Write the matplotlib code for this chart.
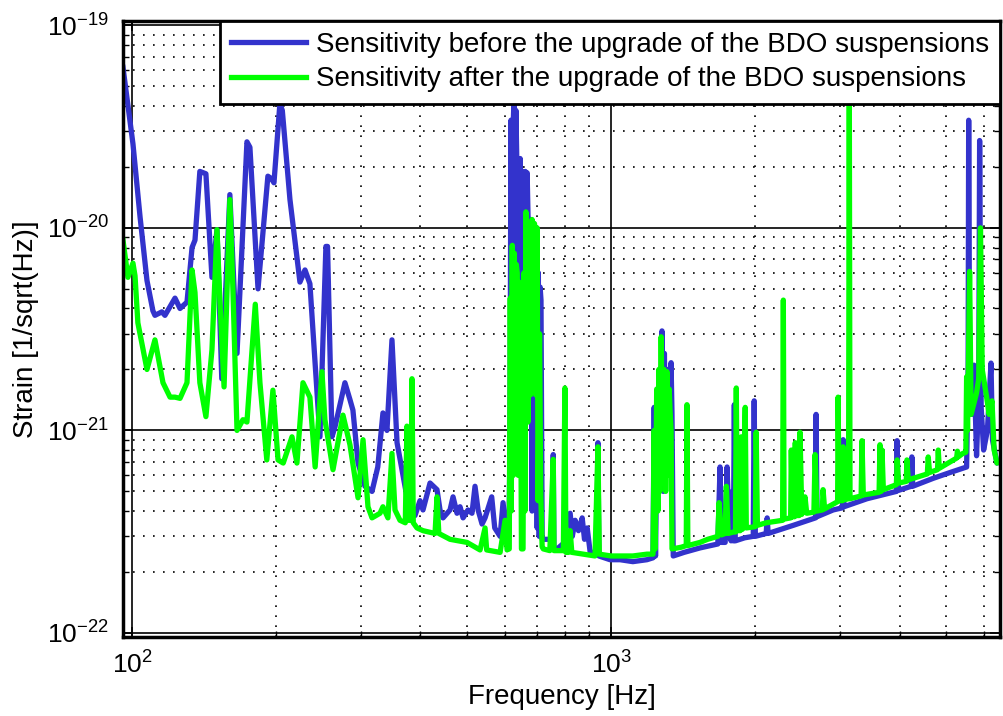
import matplotlib
matplotlib.use("Agg")
import matplotlib.pyplot as plt
from matplotlib.ticker import NullFormatter

plt.rcParams['font.family'] = ['Liberation Sans', 'DejaVu Sans']
plt.rcParams['mathtext.fontset'] = 'custom'
plt.rcParams['mathtext.rm'] = 'Liberation Sans'
plt.rcParams['mathtext.it'] = 'Liberation Sans:italic'
plt.rcParams['mathtext.bf'] = 'Liberation Sans:bold'

# sensitivity before the upgrade (blue)
before_freq = [
    95.8, 100.5, 104.0, 107.5, 110.6, 111.7, 115.5, 117.2, 123.0, 126.0,
    130.3, 133.5, 135.4, 138.6, 142.7, 146.9, 150.5, 154.0, 160.1, 165.7,
    173.8, 176.3, 183.3, 192.2, 195.5, 197.9, 203.6, 206.0, 213.7, 224.2,
    229.7, 235.2, 246.8, 254.0, 256.0, 261.5, 265.3, 278.3, 285.1, 289.2,
    296.4, 306.5, 317.0, 325.9, 334.1, 340.6, 348.9, 357.5, 366.1, 374.9,
    380.5, 389.7, 399.2, 405.0, 418.9, 433.2, 439.5, 445.9, 461.2, 467.9,
    476.9, 483.9, 491.0, 502.7, 512.5, 520.0, 527.7, 537.9, 545.7, 563.4,
    571.7, 586.6, 595.0, 606.6, 612, 615, 618, 621, 624, 627,
    630, 633, 636, 639, 642, 646, 650, 655, 658, 662,
    665, 668, 671, 675, 680, 684, 688, 692, 697, 701,
    705, 708, 711, 714, 718, 735, 754, 757.3, 760, 771.5,
    800, 810, 821.4, 830, 841.4, 855, 870.3, 880, 891.5, 904.4,
    934.3, 938.7, 943, 995, 1044, 1110, 1188, 1223, 1230, 1238,
    1250, 1262, 1277, 1285, 1292, 1300, 1310, 1320, 1334, 1340,
    1348, 1420, 1533, 1670, 1688, 1700, 1730, 1746, 1765, 1780,
    1791, 1800, 1808, 1816, 1900, 1980, 1989, 2000, 2107, 2117,
    2127, 2400, 2670, 2678, 2690, 2907, 3040, 3050, 3062, 3420,
    3940, 3953, 3970, 4230, 4243, 4260, 4700, 5100, 5520, 5560,
    5575, 5600, 5650, 5720, 5790, 5850, 5876, 5920, 5990, 6100,
    6206, 6250, 6386, 6480]
before_strain = [
    6.2e-20, 2.6e-20, 1.13e-20, 5.5e-21, 3.9e-21, 3.7e-21, 3.85e-21, 3.7e-21, 4.5e-21, 4.0e-21,
    4.3e-21, 8.0e-21, 8.7e-21, 1.9e-20, 1.85e-20, 5.7e-21, 9.8e-21, 1.8e-21, 1.46e-20, 2.4e-21,
    2.66e-20, 2.5e-20, 5.0e-21, 1.8e-20, 1.75e-20, 1.67e-20, 4.1e-20, 3.8e-20, 1.38e-20, 5.4e-21,
    6.2e-21, 5.3e-21, 9.3e-22, 8.1e-21, 8.1e-21, 9.3e-22, 1.04e-21, 1.72e-21, 1.42e-21, 1.26e-21,
    6.9e-22, 5.3e-22, 5.0e-22, 6.6e-22, 1.22e-21, 1.0e-21, 2.8e-21, 8.7e-22, 6.4e-22, 4.7e-22,
    4.05e-22, 3.8e-22, 4.5e-22, 4.05e-22, 5.5e-22, 5.1e-22, 4.05e-22, 3.7e-22, 4.05e-22, 4.7e-22,
    3.9e-22, 4.2e-22, 3.7e-22, 4.05e-22, 3.9e-22, 5.3e-22, 4.05e-22, 3.45e-22, 3.7e-22, 4.7e-22,
    3.3e-22, 3.0e-22, 4.4e-22, 2.9e-22, 3.0e-22, 8.0e-22, 3.4e-20, 1.0e-21, 3.0e-20, 4.2e-20,
    2.0e-21, 3.8e-20, 2.0e-20, 2.2e-20, 1.2e-21, 2.2e-20, 6.0e-21, 1.9e-20, 1.5e-21, 1.9e-20,
    8.0e-21, 1.87e-20, 1.13e-20, 3.0e-21, 1.1e-20, 4.0e-22, 1.06e-20, 3.0e-21, 8.0e-21, 3.3e-22,
    6.0e-21, 3.0e-22, 5.1e-21, 4.4e-21, 2.9e-22, 2.9e-22, 2.9e-22, 7.6e-22, 2.6e-22, 2.6e-22,
    2.8e-22, 3.8e-22, 3.9e-22, 3.0e-22, 3.6e-22, 3.2e-22, 3.7e-22, 2.9e-22, 3.3e-22, 2.5e-22,
    2.5e-22, 8.7e-22, 2.4e-22, 2.3e-22, 2.3e-22, 2.25e-22, 2.3e-22, 2.35e-22, 1.3e-21, 2.4e-22,
    1.5e-21, 6.0e-22, 3.1e-21, 5.0e-22, 2.4e-21, 7.0e-22, 2.0e-21, 6.0e-22, 2.16e-21, 1.2e-21,
    2.4e-22, 2.5e-22, 2.63e-22, 2.75e-22, 6.6e-22, 2.8e-22, 2.8e-22, 6.6e-22, 3.0e-22, 2.85e-22,
    5.0e-22, 2.85e-22, 1.34e-21, 2.85e-22, 2.95e-22, 3.0e-22, 1.4e-21, 3.0e-22, 3.1e-22, 3.7e-22,
    3.1e-22, 3.4e-22, 3.7e-22, 1.2e-21, 3.75e-22, 4.05e-22, 4.15e-22, 9.0e-22, 4.2e-22, 4.6e-22,
    5.0e-22, 8.9e-22, 5.05e-22, 5.3e-22, 7.4e-22, 5.3e-22, 5.8e-22, 6.2e-22, 6.6e-22, 2.0e-21,
    3.4e-20, 2.0e-21, 1.2e-21, 2.1e-21, 7.5e-22, 1.5e-21, 2.7e-20, 1.3e-21, 8.0e-22, 1.0e-21,
    2.15e-21, 9.0e-22, 6.9e-22, 7.0e-22]

# sensitivity after the upgrade (green)
after_freq = [
    95.8, 98.1, 100.5, 101.5, 102.9, 107.5, 111.7, 116.1, 120.1, 123.0,
    126.0, 130.3, 133.5, 135.4, 138.6, 142.7, 146.9, 150.5, 152.6, 155.7,
    160.1, 162.5, 165.7, 170.5, 173.8, 180.9, 185.0, 191.2, 196.9, 201.8,
    206.9, 215.8, 221.0, 227.5, 235.2, 241.2, 249.2, 252.8, 262.8, 275.7,
    285.1, 296.4, 303.6, 310.9, 317.0, 329.4, 334.1, 342.2, 348.9, 354.0,
    362.6, 372.0, 374.9, 377.0, 382.0, 384.1, 386.5, 393.5, 405.0, 429.1,
    433.2, 437.0, 461.2, 500.3, 532.8, 545.7, 550.0, 586.6, 600.8, 606.6,
    610, 613, 616, 619, 622, 625, 628, 631, 634, 637,
    640, 643, 646, 650, 655, 658, 661, 664, 667, 671,
    675, 679, 684, 688, 692, 696, 701, 704, 709, 713,
    718, 722, 745, 757.3, 760, 795, 800.9, 805, 815, 821.4,
    828, 925.6, 938.7, 945, 1000, 1110, 1188, 1223, 1230, 1236,
    1245, 1252, 1258, 1264, 1272, 1280, 1290, 1300, 1308, 1315,
    1322, 1328, 1334, 1340, 1400, 1435, 1440, 1446, 1533, 1590,
    1670, 1680, 1700, 1730, 1740, 1755, 1800, 1818, 1825, 1835,
    1860, 1869, 1880, 1905, 1915, 2000, 2008, 2020, 2107, 2280,
    2288, 2296, 2370, 2377, 2390, 2415, 2423, 2440, 2470, 2479,
    2500, 2539, 2560, 2650, 2665, 2690, 2760, 2769, 2790, 2970,
    2977, 2990, 3040, 3050, 3070, 3130, 3141, 3152, 3325, 3339,
    3360, 3625, 3640, 3660, 3676, 3700, 3940, 3953, 3980, 4130,
    4144, 4170, 4570, 4590, 4620, 4800, 4817, 4840, 5260, 5282,
    5300, 5420, 5500, 5520, 5545, 5600, 5640, 5790, 5850, 5900,
    5950, 6077, 6150, 6236, 6300, 6386, 6480]
after_strain = [
    8.7e-21, 5.7e-21, 6.7e-21, 5.8e-21, 3.4e-21, 2.0e-21, 2.8e-21, 1.72e-21, 1.46e-21, 1.46e-21,
    1.44e-21, 1.72e-21, 6.2e-21, 4.8e-21, 1.72e-21, 1.17e-21, 2.5e-21, 9.8e-21, 4.4e-21, 1.64e-21,
    1.38e-20, 4.9e-21, 1.0e-21, 1.13e-21, 1.1e-21, 4.2e-21, 1.72e-21, 7.15e-22, 1.58e-21, 7.15e-22,
    6.9e-22, 9.3e-22, 6.9e-22, 1.72e-21, 1.46e-21, 6.6e-22, 1.95e-21, 1.13e-21, 6.4e-22, 1.19e-21,
    8.5e-22, 4.65e-22, 9.0e-22, 4.2e-22, 3.7e-22, 3.9e-22, 4.2e-22, 3.7e-22, 7.7e-22, 4.05e-22,
    3.6e-22, 3.5e-22, 1.05e-21, 3.6e-22, 3.6e-22, 1.8e-21, 3.5e-22, 3.3e-22, 3.2e-22, 3.1e-22,
    4.7e-22, 3.1e-22, 2.9e-22, 2.8e-22, 2.57e-22, 3.3e-22, 2.57e-22, 2.5e-22, 3.6e-22, 2.57e-22,
    2.6e-22, 2.6e-22, 4.5e-21, 4.0e-22, 8.2e-21, 6.0e-22, 7.5e-21, 8.0e-22, 6.6e-21, 6.0e-21,
    6.0e-22, 5.4e-21, 5.1e-21, 2.6e-22, 2.6e-22, 6.0e-21, 4.0e-22, 1.2e-20, 5.0e-21, 1.1e-21,
    9.0e-21, 1.5e-21, 1.1e-20, 2.0e-21, 1.05e-20, 1.5e-21, 1.0e-20, 4.5e-22, 3.0e-21, 5.0e-22,
    2.66e-22, 2.6e-22, 2.55e-22, 7.2e-22, 2.55e-22, 2.55e-22, 1.62e-21, 2.5e-22, 2.5e-22, 3.2e-22,
    2.5e-22, 2.4e-22, 8.3e-22, 2.45e-22, 2.4e-22, 2.4e-22, 2.45e-22, 2.45e-22, 1.0e-21, 2.6e-22,
    1.6e-21, 4.0e-22, 2.0e-21, 5.0e-22, 2.9e-21, 8.0e-22, 2.0e-21, 5.0e-22, 1.95e-21, 6.0e-22,
    1.6e-21, 1.23e-21, 1.0e-21, 2.6e-22, 2.65e-22, 2.7e-22, 1.34e-21, 2.7e-22, 2.8e-22, 2.9e-22,
    3.0e-22, 4.4e-22, 3.05e-22, 3.1e-22, 5.3e-22, 3.1e-22, 3.15e-22, 3.15e-22, 1.62e-21, 3.2e-22,
    3.2e-22, 9.3e-22, 3.25e-22, 1.3e-21, 3.3e-22, 3.35e-22, 9.8e-22, 3.4e-22, 3.5e-22, 3.6e-22,
    4.4e-21, 3.65e-22, 3.7e-22, 8.0e-22, 3.75e-22, 3.75e-22, 8.7e-22, 3.8e-22, 3.8e-22, 9.8e-22,
    3.85e-22, 4.7e-22, 3.9e-22, 3.95e-22, 7.6e-22, 4.0e-22, 4.05e-22, 5.1e-22, 4.1e-22, 4.45e-22,
    1.46e-21, 4.5e-22, 4.5e-22, 8.3e-22, 4.55e-22, 4.6e-22, 6.0e-20, 4.6e-22, 4.75e-22, 8.9e-22,
    4.8e-22, 4.95e-22, 8.5e-22, 5.0e-22, 8.0e-22, 5.1e-22, 5.4e-22, 7.15e-22, 5.5e-22, 5.6e-22,
    7.15e-22, 5.7e-22, 6.1e-22, 7.4e-22, 6.2e-22, 6.4e-22, 8.0e-22, 6.5e-22, 7.3e-22, 7.9e-22,
    7.4e-22, 7.7e-22, 7.8e-22, 1.84e-21, 1.0e-21, 6.1e-21, 1.2e-21, 1.53e-21, 1.8e-21, 1.0e-20,
    2.0e-21, 1.46e-21, 1.2e-21, 1.4e-21, 8.0e-22, 6.9e-22, 7.0e-22]

fig = plt.figure(figsize=(10.04, 7.16), dpi=100)
ax = fig.add_axes([0.1225, 0.1103, 0.8735, 0.8603])

ax.loglog(before_freq, before_strain, color='#3333cc', lw=3.8,
          label='Sensitivity before the upgrade of the BDO suspensions')
ax.loglog(after_freq, after_strain, color='#00ff00', lw=3.8,
          label='Sensitivity after the upgrade of the BDO suspensions')

ax.set_xlim(95.8, 6480)
ax.set_ylim(0.955e-22, 1.05e-19)
ax.set_xticks([1e2, 1e3])
ax.set_yticks([1e-22, 1e-21, 1e-20, 1e-19])
ax.xaxis.set_minor_formatter(NullFormatter())
ax.yaxis.set_minor_formatter(NullFormatter())

ax.grid(True, which='major', color='black', lw=1.2, ls='-')
ax.grid(True, which='minor', color='black', lw=1.2, ls=(0, (1, 5)))
ax.tick_params(which='both', direction='in', top=True, right=True, labelsize=19)
ax.tick_params(which='major', length=7, width=1.2, pad=10)
ax.tick_params(which='minor', length=4, width=1)
for sp in ax.spines.values():
    sp.set_linewidth(2.5)

ax.set_xlabel('Frequency [Hz]', fontsize=20, labelpad=4)
ax.set_ylabel('Strain [1/sqrt(Hz)]', fontsize=20, labelpad=6)

leg = ax.legend(loc='upper right', fontsize=20, fancybox=False, framealpha=1,
                edgecolor='black', borderaxespad=0, handlelength=2.7,
                handletextpad=0.35, borderpad=0.4, labelspacing=0.3)
leg.get_frame().set_linewidth(2)

fig.savefig('out.png', dpi=100)
